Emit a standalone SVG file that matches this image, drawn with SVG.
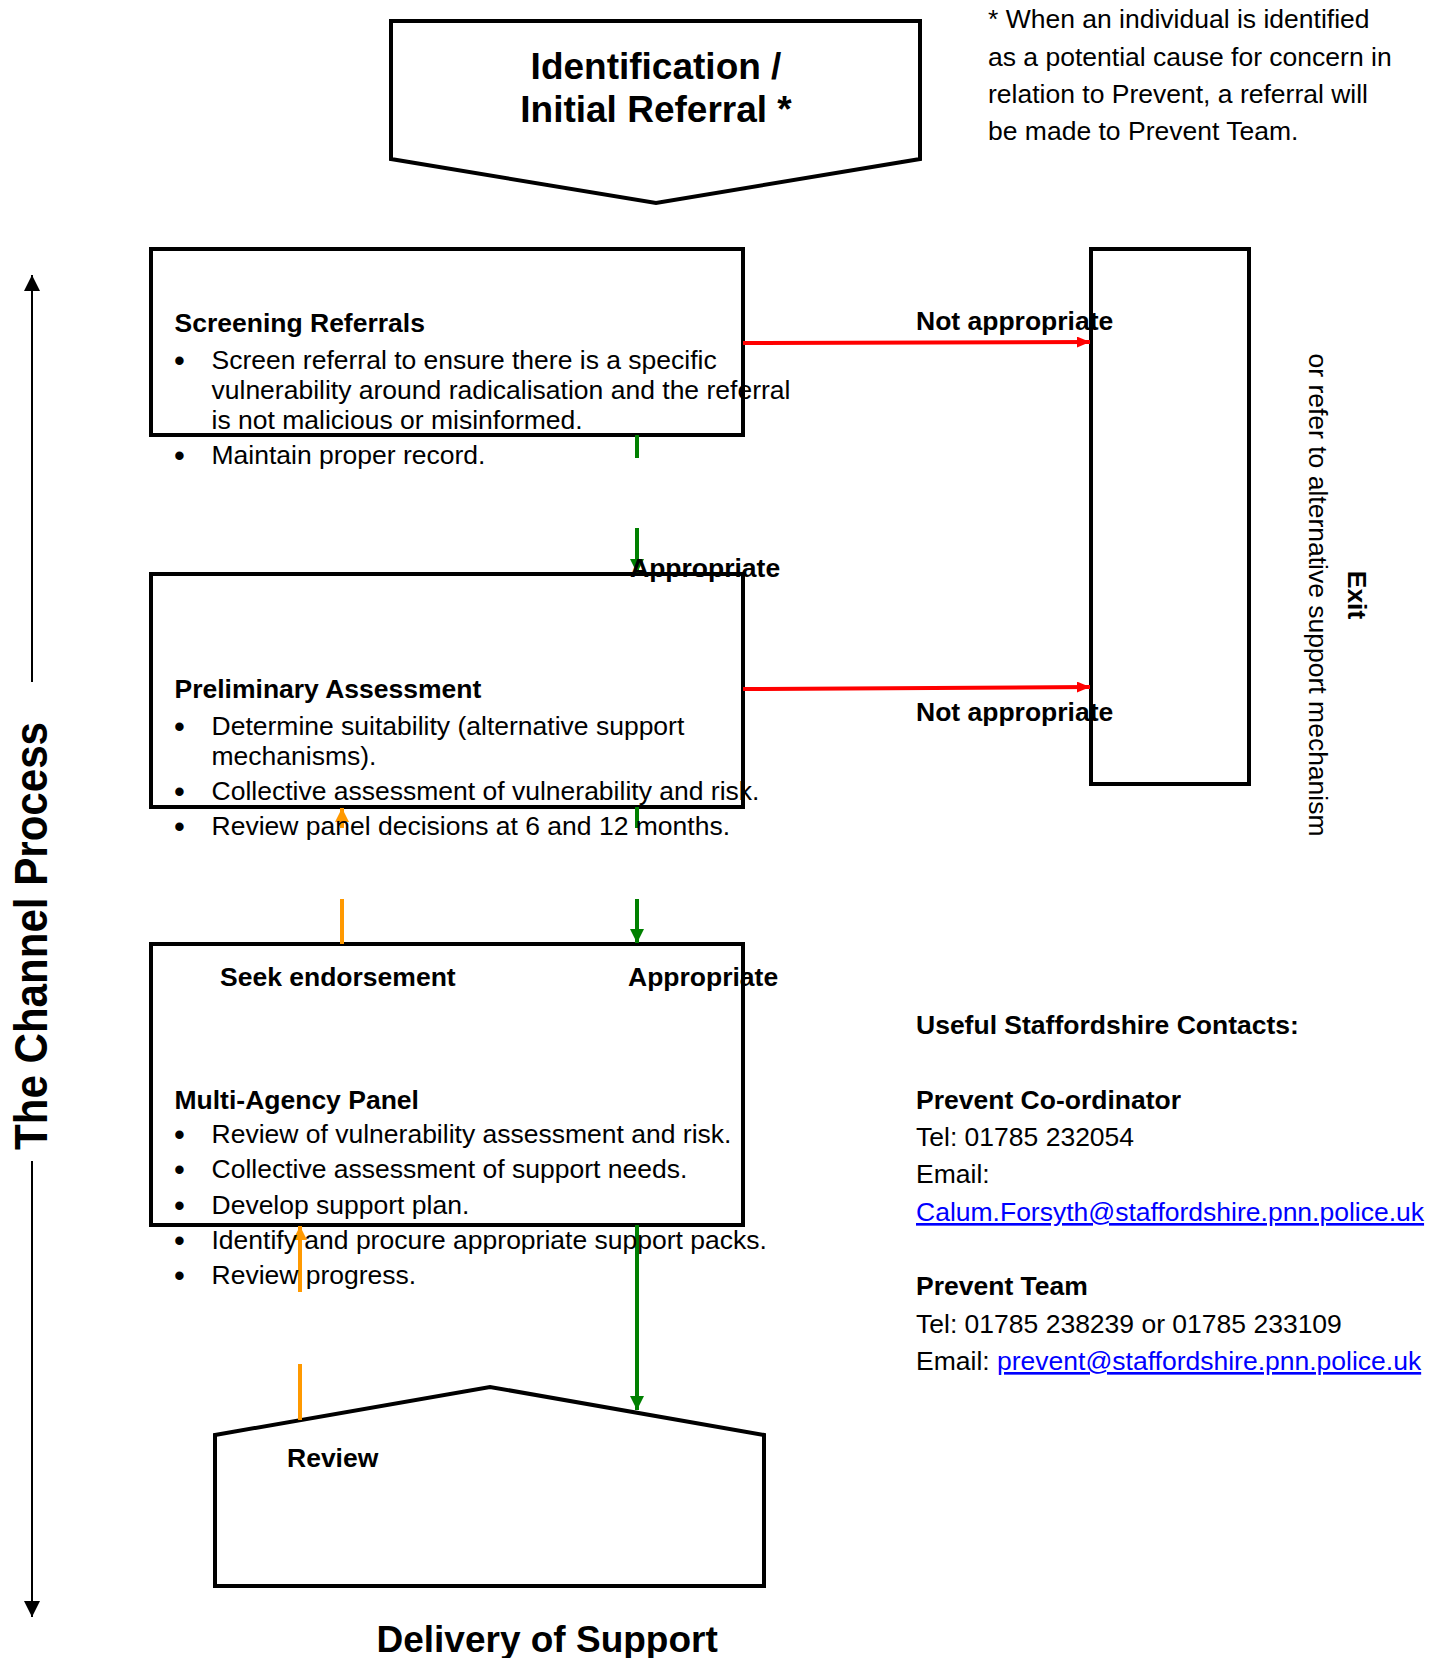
<svg xmlns="http://www.w3.org/2000/svg" width="1432" height="1658" viewBox="0 0 1432 1658">
  <style>
    text { font-family: "Liberation Sans", Arial, sans-serif; font-size: 26.5px; fill: #000; }
    .b { font-weight: bold; }
    .bu { font-size: 31px; }
    .title { font-weight: bold; font-size: 37px; }
    .box { fill: #fff; stroke: #000; stroke-width: 4; stroke-linejoin: miter; }
    .green { stroke: #008000; stroke-width: 4; fill: none; }
    .orange { stroke: #FF9900; stroke-width: 4; fill: none; }
    .red { stroke: #FF0000; stroke-width: 4; fill: none; }
    .axis { stroke: #000; stroke-width: 2; fill: none; }
    .link { fill: #0000FF; text-decoration: underline; }
  </style>
  <defs>
    <marker id="ahGreen" markerUnits="userSpaceOnUse" markerWidth="14" markerHeight="14" viewBox="0 0 14 14" refX="14" refY="7" orient="auto">
      <path d="M0,0 L14,7 L0,14 z" fill="#008000"/>
    </marker>
    <marker id="ahOrange" markerUnits="userSpaceOnUse" markerWidth="14" markerHeight="14" viewBox="0 0 14 14" refX="14" refY="7" orient="auto">
      <path d="M0,0 L14,7 L0,14 z" fill="#FF9900"/>
    </marker>
    <marker id="ahRed" markerUnits="userSpaceOnUse" markerWidth="13" markerHeight="11" viewBox="0 0 13 11" refX="13" refY="5.5" orient="auto">
      <path d="M0,0 L13,5.5 L0,11 z" fill="#FF0000"/>
    </marker>
    <marker id="ahBlack" markerUnits="userSpaceOnUse" markerWidth="16" markerHeight="16" viewBox="0 0 16 16" refX="16" refY="8" orient="auto">
      <path d="M0,0 L16,8 L0,16 z" fill="#000"/>
    </marker>
  </defs>

  <rect x="0" y="0" width="1432" height="1658" fill="#fff"/>

  <g id="node-identification">
    <polygon class="box" points="391,21 920,21 920,159 656,203 391,159"/>
    <text class="title" x="656" y="79" text-anchor="middle">Identification /</text>
    <text class="title" x="656" y="122" text-anchor="middle">Initial Referral *</text>
  </g>

  <g id="note-footnote">
    <text x="988" y="28">* When an individual is identified</text>
    <text x="988" y="66">as a potential cause for concern in</text>
    <text x="988" y="103">relation to Prevent, a referral will</text>
    <text x="988" y="140">be made to Prevent Team.</text>
  </g>

  <g id="node-screening">
    <rect class="box" x="151" y="249" width="592" height="186"/>
  </g>
  <g id="node-preliminary">
    <rect class="box" x="151" y="574" width="592" height="233"/>
  </g>
  <g id="node-multiagency">
    <rect class="box" x="151" y="944" width="592" height="281"/>
  </g>
  <g id="node-review">
    <polygon class="box" points="215,1435 490,1387 764,1435 764,1586 215,1586"/>
  </g>
  <g id="node-exit">
    <rect class="box" x="1091" y="249" width="158" height="535"/>
  </g>

  <g id="connectors">
    <line class="green" x1="637" y1="435" x2="637" y2="458"/>
    <line class="green" x1="637" y1="528" x2="637" y2="573" marker-end="url(#ahGreen)"/>
    <line class="red" x1="743" y1="343" x2="1090" y2="342" marker-end="url(#ahRed)"/>
    <line class="red" x1="743" y1="689" x2="1090" y2="687" marker-end="url(#ahRed)"/>
    <line class="orange" x1="342" y1="944" x2="342" y2="899"/>
    <line class="orange" x1="342" y1="828" x2="342" y2="808" marker-end="url(#ahOrange)"/>
    <line class="green" x1="637" y1="807" x2="637" y2="828"/>
    <line class="green" x1="637" y1="899" x2="637" y2="943" marker-end="url(#ahGreen)"/>
    <line class="orange" x1="300" y1="1420" x2="300" y2="1364"/>
    <line class="orange" x1="300" y1="1292" x2="300" y2="1226" marker-end="url(#ahOrange)"/>
    <line class="green" x1="637" y1="1225" x2="637" y2="1410" marker-end="url(#ahGreen)"/>
    <line class="axis" x1="32" y1="682" x2="32" y2="275" marker-end="url(#ahBlack)"/>
    <line class="axis" x1="32" y1="1161" x2="32" y2="1617" marker-end="url(#ahBlack)"/>
  </g>

  <g id="text-screening">
    <text class="b" x="174.5" y="332">Screening Referrals</text>
    <text y="369"><tspan class="bu" x="174" dy="2">•</tspan><tspan x="211.5" dy="-2">Screen referral to ensure there is a specific</tspan></text>
    <text x="211.5" y="399">vulnerability around radicalisation and the referral</text>
    <text x="211.5" y="429">is not malicious or misinformed.</text>
    <text y="464"><tspan class="bu" x="174" dy="2">•</tspan><tspan x="211.5" dy="-2">Maintain proper record.</tspan></text>
  </g>

  <g id="text-preliminary">
    <text class="b" x="174.5" y="698">Preliminary Assessment</text>
    <text y="735"><tspan class="bu" x="174" dy="2">•</tspan><tspan x="211.5" dy="-2">Determine suitability (alternative support</tspan></text>
    <text x="211.5" y="765">mechanisms).</text>
    <text y="800"><tspan class="bu" x="174" dy="2">•</tspan><tspan x="211.5" dy="-2">Collective assessment of vulnerability and risk.</tspan></text>
    <text y="835"><tspan class="bu" x="174" dy="2">•</tspan><tspan x="211.5" dy="-2">Review panel decisions at 6 and 12 months.</tspan></text>
  </g>

  <g id="text-multiagency">
    <text class="b" x="174.5" y="1109">Multi-Agency Panel</text>
    <text y="1143"><tspan class="bu" x="174" dy="2">•</tspan><tspan x="211.5" dy="-2">Review of vulnerability assessment and risk.</tspan></text>
    <text y="1178"><tspan class="bu" x="174" dy="2">•</tspan><tspan x="211.5" dy="-2">Collective assessment of support needs.</tspan></text>
    <text y="1214"><tspan class="bu" x="174" dy="2">•</tspan><tspan x="211.5" dy="-2">Develop support plan.</tspan></text>
    <text y="1249"><tspan class="bu" x="174" dy="2">•</tspan><tspan x="211.5" dy="-2">Identify and procure appropriate support packs.</tspan></text>
    <text y="1284"><tspan class="bu" x="174" dy="2">•</tspan><tspan x="211.5" dy="-2">Review progress.</tspan></text>
  </g>

  <g id="labels">
    <text class="b" x="630" y="577">Appropriate</text>
    <text class="b" x="916" y="330">Not appropriate</text>
    <text class="b" x="916" y="721">Not appropriate</text>
    <text class="b" x="220" y="986">Seek endorsement</text>
    <text class="b" x="628" y="986">Appropriate</text>
    <text class="b" x="287" y="1467">Review</text>
    <text class="b" transform="translate(1348,595) rotate(90)" text-anchor="middle">Exit</text>
    <text transform="translate(1309,595) rotate(90)" text-anchor="middle">or refer to alternative support mechanism</text>
    <text class="b" transform="translate(47,936) rotate(-90)" text-anchor="middle" textLength="428" lengthAdjust="spacingAndGlyphs" style="font-size:46px">The Channel Process</text>
    <text class="title" x="376.5" y="1652">Delivery of Support</text>
  </g>

  <g id="contacts">
    <text class="b" x="916" y="1034">Useful Staffordshire Contacts:</text>
    <text class="b" x="916" y="1109">Prevent Co-ordinator</text>
    <text x="916" y="1146">Tel: 01785 232054</text>
    <text x="916" y="1183">Email:</text>
    <text class="link" x="916" y="1221">Calum.Forsyth@staffordshire.pnn.police.uk</text>
    <text class="b" x="916" y="1295">Prevent Team</text>
    <text x="916" y="1333">Tel: 01785 238239 or 01785 233109</text>
    <text x="916" y="1370">Email: <tspan class="link">prevent@staffordshire.pnn.police.uk</tspan></text>
  </g>
</svg>
